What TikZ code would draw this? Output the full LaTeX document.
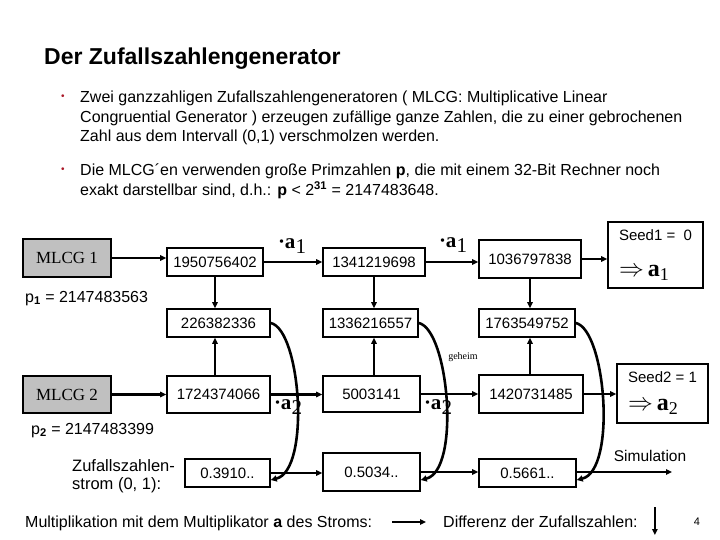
\documentclass[tikz,border=0pt]{standalone}
\usepackage{fontspec}
\usepackage{amsmath}
\setmainfont{Liberation Sans}
\newfontfamily\timesfont{Liberation Serif}
\usetikzlibrary{arrows.meta,calc}
\definecolor{bulletred}{RGB}{170,25,40}
\definecolor{mlcggray}{RGB}{192,192,192}
\newcommand{\multlabel}[1]{·a\raisebox{-5pt}{\mdseries #1}}
\newcommand{\seedlabel}[1]{{\timesfont\fontsize{24}{24}\selectfont$\Rightarrow$\,\textbf{a}\raisebox{-4pt}{\fontsize{18}{18}\selectfont #1}}}

\begin{document}
\begin{tikzpicture}[x=1pt, y=-1pt,
    numbox/.style={draw, line width=1.6pt, inner sep=0pt, minimum height=28pt, font=\fontsize{15}{18}\selectfont},
    genbox/.style={draw, line width=1.6pt, fill=mlcggray, minimum width=88pt, minimum height=38pt, font=\timesfont\fontsize{17}{20}\selectfont},
    flow/.style={-{Triangle[length=6pt,width=5.5pt]}, line width=2.6pt},
    link/.style={-{Triangle[length=6pt,width=5.5pt]}, line width=1.8pt},
    swap/.style={-{Triangle[length=6pt,width=6pt]}, line width=2.6pt},
    mult/.style={font=\timesfont\bfseries\fontsize{21}{21}\selectfont},
    txt/.style={inner sep=0pt, font=\fontsize{16}{18}\selectfont},
    para/.style={inner sep=0pt, anchor=north west, align=left, font=\fontsize{16}{19.5}\selectfont},
    dot/.style={inner sep=0pt, text=bulletred, font=\fontsize{10}{10}\selectfont}]
    \useasboundingbox (0,0) rectangle (720,540);
    % Title and bullets
    \node[anchor=base west, inner sep=0pt, font=\bfseries\fontsize{23}{27}\selectfont] (title) at (44,65) {Der Zufallszahlengenerator};
    \node[dot] (dota) at (63,97) {•};
    \node[para] (parta) at (80,91) {Zwei ganzzahligen Zufallszahlengeneratoren ( MLCG: Multiplicative Linear\\
        Congruential Generator ) erzeugen zufällige ganze Zahlen, die zu einer gebrochenen\\
        Zahl aus dem Intervall (0,1) verschmolzen werden.};
    \node[dot] (dotb) at (63,170) {•};
    \node[para] (partb) at (80,164) {Die MLCG´en verwenden große Primzahlen \textbf{p}, die mit einem 32-Bit Rechner noch\\
        exakt darstellbar sind, d.h.: \textbf{p} < 2\textsuperscript{\textbf{31}} = 2147483648.};
    % Generator 1
    \node[genbox] (mlcga) at (67,258) {MLCG 1};
    \node[txt, anchor=base west] (pa) at (25,302) {p\textsubscript{\textbf{1}} = 2147483563};
    \node[numbox, minimum width=96pt] (ra1) at (215,262) {1950756402};
    \node[numbox, minimum width=102pt] (rb1) at (374,262) {1341219698};
    \node[numbox, minimum width=102pt, minimum height=38pt] (rc1) at (530,259) {1036797838};
    \node[numbox, minimum width=95pt, minimum height=66pt, align=left] (seeda) at (655.5,255)
        {Seed1 =\ \ 0\\[18pt] \seedlabel{1}};
    \node[numbox, minimum width=103pt] (sa1) at (218.5,323) {226382336};
    \node[numbox, minimum width=95pt] (sb1) at (370.5,323) {1336216557};
    \node[numbox, minimum width=96pt] (sc1) at (527,323) {1763549752};
    \node[mult] (ma1) at (292,246) {\multlabel{1}};
    \node[mult] (mb1) at (453,245) {\multlabel{1}};
    \draw[flow] (mlcga) -- (ra1.west |- mlcga);
    \draw[flow] (ra1) -- (rb1);
    \draw[flow] (rb1.east) -- (rc1.west |- rb1.east);
    \draw[flow] (rc1.east) -- (seeda.west |- rc1.east);
    \draw[link] (ra1.south) -- (ra1.south |- sa1.north);
    \draw[link] (rb1.south) -- (rb1.south |- sb1.north);
    \draw[link] (rc1.south) -- (rc1.south |- sc1.north);
    % Generator 2
    \node[genbox, minimum height=37pt] (mlcgb) at (67,394.5) {MLCG 2};
    \node[txt, anchor=base west] (pb) at (31,434) {p\textsubscript{\textbf{2}} = 2147483399};
    \node[numbox, minimum width=103pt, minimum height=37pt] (ra2) at (218.5,394.5) {1724374066};
    \node[numbox, minimum width=97pt, minimum height=36pt] (rb2) at (371.5,394) {5003141};
    \node[numbox, minimum width=104pt, minimum height=38pt] (rc2) at (531,394) {1420731485};
    \node[numbox, minimum width=91pt, minimum height=59pt, align=left] (seedb) at (662.5,393.5)
        {Seed2 = 1\\[10pt] \seedlabel{2}};
    \node[mult] (ma2) at (288,407) {\multlabel{2}};
    \node[mult] (mb2) at (438,407) {\multlabel{2}};
    \node[inner sep=0pt, font=\timesfont\fontsize{10}{12}\selectfont] (secret) at (463,357) {geheim};
    \draw[flow] (mlcgb) -- (ra2);
    \draw[flow] (ra2) -- (rb2.west |- ra2);
    \draw[flow] (rb2) -- (rc2.west |- rb2);
    \draw[flow] (rc2) -- (seedb.west |- rc2);
    \draw[link] (ra2.north -| ra1.south) -- (ra1.south |- sa1.south);
    \draw[link] (rb2.north -| rb1.south) -- (rb1.south |- sb1.south);
    \draw[link] (rc2.north -| rc1.south) -- (rc1.south |- sc1.south);
    % Stream
    \node[txt, anchor=north west, align=left, font=\fontsize{16.5}{18}\selectfont] (streamlbl) at (72,459) {Zufallszahlen-\\strom (0, 1):};
    \node[numbox, minimum width=85pt] (ua) at (227.5,473) {0.3910..};
    \node[numbox, minimum width=97pt, minimum height=38pt] (ub) at (371.5,472) {0.5034..};
    \node[numbox, minimum width=97pt] (uc) at (527.5,473) {0.5661..};
    \coordinate (simend) at (672,472);
    \node[txt, font=\fontsize{15.5}{18}\selectfont] (simlbl) at (650,456) {Simulation};
    \draw[flow] (ua) -- (ub.west |- ua);
    \draw[flow] (ub) -- (uc.west |- ub);
    \draw[flow] (uc.east |- simend) -- (simend);
    \draw[swap] (sa1.east) .. controls +(30,7) and +(40,-10) .. ([yshift=-7pt]ua.east);
    \draw[swap] (sb1.east) .. controls +(30,7) and +(40,-10) .. ([yshift=-8pt]ub.east);
    \draw[swap] (sc1.east) .. controls +(30,7) and +(40,-10) .. ([yshift=-7pt]uc.east);
    % Legend
    \node[txt, anchor=base west] (footl) at (25,527) {Multiplikation mit dem Multiplikator \textbf{a} des Stroms:};
    \node[txt, anchor=base west] (footr) at (443,527) {Differenz der Zufallszahlen:};
    \draw[flow] ([xshift=20pt,yshift=5pt]footl.base east) -- ([xshift=-17pt,yshift=5pt]footr.base west);
    \draw[link] ([xshift=17pt,yshift=20pt]footr.base east) -- ([xshift=17pt,yshift=-8pt]footr.base east);
    \node[inner sep=0pt, font=\fontsize{11}{13}\selectfont] (pagenum) at (697,522) {4};
\end{tikzpicture}
\end{document}
